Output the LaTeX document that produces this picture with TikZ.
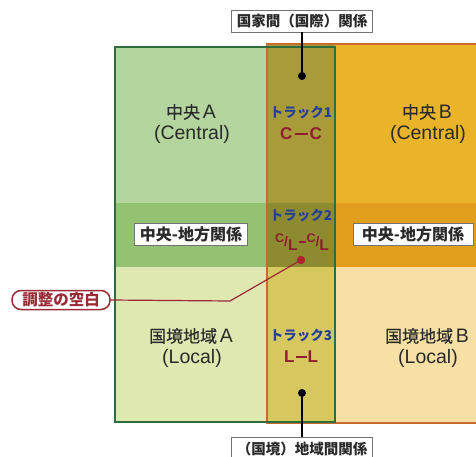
\documentclass[tikz,border=0pt]{standalone}
\usepackage{fontspec}
\setmainfont{Noto Sans CJK JP}
\newfontfamily\cjkmed{Noto Sans CJK JP}[FakeBold=0.35]
\newfontfamily\latin{Liberation Sans}
\newfontfamily\latinb{Liberation Sans Bold}
\definecolor{gA}{HTML}{B5D59F}
\definecolor{gAb}{HTML}{93C372}
\definecolor{gAl}{HTML}{DFE8B0}
\definecolor{oT}{HTML}{A99B3A}
\definecolor{oTb}{HTML}{8E8A30}
\definecolor{oTl}{HTML}{D6C75E}
\definecolor{bT}{HTML}{E9B42A}
\definecolor{bTb}{HTML}{E29E1F}
\definecolor{bTl}{HTML}{F6E0A6}
\definecolor{gline}{HTML}{2F6E3C}
\definecolor{oline}{HTML}{C96A2C}
\definecolor{trkblue}{HTML}{22409A}
\definecolor{trkred}{HTML}{8E1E30}
\definecolor{gapred}{HTML}{9C2A36}
\definecolor{txt}{HTML}{2A2A2A}
\newcommand{\cjkline}[1]{{\fontsize{17}{20}\cjkmed #1}}
\newcommand{\latline}[1]{{\fontsize{19.5}{22}\latin #1}}
\newcommand{\trkbar}{\kern2pt\rule[4.6pt]{13pt}{2.4pt}\kern2pt}
\newcommand{\cl}{\raisebox{3.5pt}{\fontsize{12.5}{13}\selectfont C}{\fontsize{14}{15}\selectfont /}\raisebox{-4pt}{\fontsize{15.5}{16}\selectfont L}}
\tikzset{
  region/.style={text=txt, align=center, inner sep=0pt},
  tagbox/.style={draw=black!55, fill=white, line width=0.8pt, inner sep=0pt, minimum height=22pt, font=\fontsize{16}{18}\selectfont\bfseries, text=txt},
  trk/.style={font=\fontsize{13.5}{15}\selectfont\bfseries, text=trkblue, inner sep=0pt},
  trkcode/.style={font=\fontsize{17}{18}\latinb, text=trkred, inner sep=0pt},
  blackdot/.style={circle, fill=black, inner sep=0pt, minimum size=8pt},
  reddot/.style={circle, fill=gapred!85!red, inner sep=0pt, minimum size=8pt},
}
\begin{document}
\begin{tikzpicture}[x=1pt,y=-1pt]
\useasboundingbox (0,0) rectangle (476,457);
% fills
\fill[gA] (115,47) rectangle (267,203);
\fill[gAb] (115,203) rectangle (267,267);
\fill[gAl] (115,267) rectangle (267,422);
\fill[oT] (267,44) rectangle (335,203);
\fill[oTb] (267,203) rectangle (335,267);
\fill[oTl] (267,267) rectangle (335,423);
\fill[bT] (335,44) rectangle (476,203);
\fill[bTb] (335,203) rectangle (476,267);
\fill[bTl] (335,267) rectangle (476,423);
% borders
\draw[oline, line width=2.4pt] (478,44) -- (267,44) -- (267,423) -- (478,423);
\draw[gline, line width=2.4pt] (115,47) rectangle (335,422);
% region texts
\node[region] (ca1) at (191,112) {\cjkline{中央\,}\latline{A}};
\node[region] (ca2) at (192,134) {\latline{(Central)}};
\node[region] (cb1) at (427,112) {\cjkline{中央\,}\latline{B}};
\node[region] (cb2) at (428,134) {\latline{(Central)}};
\node[region] (la1) at (191,336) {\cjkline{国境地域\,}\latline{A}};
\node[region] (la2) at (192,358) {\latline{(Local)}};
\node[region] (lb1) at (427,336) {\cjkline{国境地域\,}\latline{B}};
\node[region] (lb2) at (428,358) {\latline{(Local)}};
% tracks
\node[trk] (t1) at (301,113) {トラック1};
\node[trkcode] (c1) at (301,134) {C\trkbar C};
\node[trk] (t2) at (301,216) {トラック2};
\node[trkcode] (c2) at (302,242) {\cl\kern1pt\rule[3pt]{7pt}{2.2pt}\kern1pt\cl};
\node[trk] (t3) at (301,336) {トラック3};
\node[trkcode] (c3) at (301,357) {L\kern1pt\rule[4.6pt]{11pt}{2.4pt}\kern1pt L};
% band tags
\node[tagbox, minimum width=113pt] (cla) at (191,234) {中央-地方関係};
\node[tagbox, minimum width=120pt] (clb) at (413,234) {中央-地方関係};
% top and bottom tags
\node[tagbox, minimum width=141pt, font=\fontsize{14.5}{16}\selectfont\bfseries] (intl) at (302,21) {国家間（国際）関係};
\node[tagbox, minimum width=141pt, minimum height=24pt, font=\fontsize{14.5}{16}\selectfont\bfseries] (loc) at (302,449) {（国境）地域間関係};
\node[blackdot] (d1) at (302,76) {};
\node[blackdot] (d3) at (302,393) {};
\draw[black, line width=1.5pt] (intl.south) -- (d1.center);
\draw[black, line width=1.5pt] (d3.center) -- (loc.north);
% gap
\node[draw=gapred, line width=1.5pt, rounded corners=9pt, fill=white, minimum width=98pt, minimum height=19pt, inner sep=0pt, text=gapred, font=\fontsize{15.5}{17}\selectfont\bfseries] (gap) at (61,300) {調整の空白};
\node[reddot] (d2) at (301,260) {};
\coordinate (bend) at (230,301);
\draw[gapred, line width=1.2pt] (gap.east) -- (bend) -- (d2.center);
\node[reddot] at (d2) {};
\end{tikzpicture}
\end{document}
